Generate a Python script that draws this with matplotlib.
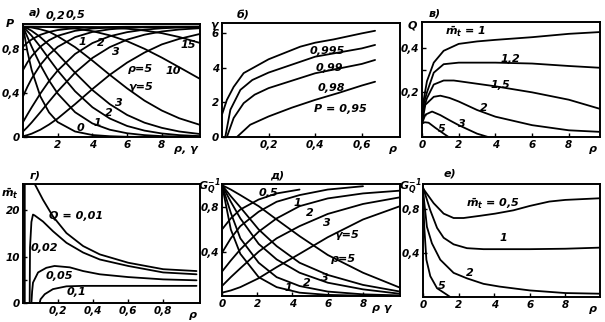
import numpy as np
import matplotlib
matplotlib.use('Agg')
import matplotlib.pyplot as plt

plt.rcParams.update({'font.family': 'DejaVu Sans', 'font.style': 'italic',
                     'font.weight': 'bold', 'font.size': 8,
                     'mathtext.fontset': 'dejavusans'})

# ---- panel a): P vs rho (fixed gamma) and P vs gamma (fixed rho)
xa = [0, 0.25, 0.5, 1, 1.5, 2, 3, 4, 5, 6, 7, 8, 9, 10.2]
a_rho02 = [0.819, 0.855, 0.885, 0.927, 0.953, 0.970, 0.988, 0.995, 0.998, 1, 1, 1, 1, 1]
a_rho05 = [0.607, 0.676, 0.733, 0.819, 0.878, 0.918, 0.963, 0.984, 0.993, 0.997, 0.999, 1, 1, 1]
a_rho1 = [0.368, 0.454, 0.530, 0.654, 0.748, 0.818, 0.906, 0.953, 0.977, 0.989, 0.995, 0.998, 0.999, 1]
a_rho2 = [0.135, 0.203, 0.269, 0.394, 0.507, 0.603, 0.753, 0.852, 0.914, 0.951, 0.974, 0.986, 0.993, 0.997]
a_rho3 = [0.050, 0.089, 0.132, 0.225, 0.321, 0.415, 0.583, 0.717, 0.815, 0.883, 0.928, 0.957, 0.975, 0.987]
a_rho5 = [0.007, 0.017, 0.030, 0.066, 0.113, 0.168, 0.298, 0.435, 0.564, 0.675, 0.766, 0.84, 0.89, 0.935]
a_gam0 = [1, 0.779, 0.607, 0.368, 0.223, 0.135, 0.050, 0.018, 0.007, 0.002, 0.001, 0, 0, 0]
a_gam1 = [1, 0.909, 0.819, 0.654, 0.512, 0.394, 0.225, 0.123, 0.066, 0.034, 0.017, 0.008, 0.004, 0.002]
a_gam2 = [1, 0.96, 0.918, 0.818, 0.709, 0.603, 0.415, 0.270, 0.168, 0.10, 0.058, 0.032, 0.017, 0.008]
a_gam3 = [1, 0.985, 0.963, 0.906, 0.834, 0.753, 0.583, 0.426, 0.298, 0.200, 0.13, 0.083, 0.05, 0.027]
a_gam5 = [1, 0.997, 0.993, 0.977, 0.955, 0.914, 0.815, 0.693, 0.564, 0.441, 0.33, 0.24, 0.17, 0.11]
a_gam10 = [1, 1, 1, 0.999, 0.998, 0.995, 0.984, 0.960, 0.922, 0.869, 0.80, 0.72, 0.633, 0.527]
a_gam15 = [1, 1, 1, 1, 1, 1, 0.999, 0.997, 0.992, 0.982, 0.966, 0.942, 0.907, 0.853]

# ---- panel б): gamma vs rho for P levels
b995_x = [0.0, 0.021, 0.05, 0.093, 0.2, 0.336, 0.4, 0.479, 0.6, 0.657]
b995_y = [1.3, 2.15, 2.9, 3.7, 4.5, 5.23, 5.46, 5.65, 6.0, 6.15]
b99_x = [0.014, 0.036, 0.079, 0.13, 0.2, 0.4, 0.6, 0.657]
b99_y = [0, 1.58, 2.73, 3.3, 3.73, 4.65, 5.13, 5.33]
b98_x = [0.021, 0.05, 0.093, 0.14, 0.2, 0.4, 0.6, 0.657]
b98_y = [0, 1.1, 1.96, 2.45, 2.83, 3.69, 4.23, 4.46]
b95_x = [0.064, 0.121, 0.2, 0.3, 0.4, 0.5, 0.6, 0.657]
b95_y = [0, 0.71, 1.19, 1.7, 2.15, 2.55, 2.98, 3.2]

# ---- panel в): Q vs rho for m_t
c1_x = [0, 0.1, 0.27, 0.64, 1.18, 2, 3, 4, 6, 8, 9.7]
c1_y = [0.06, 0.17, 0.25, 0.333, 0.386, 0.417, 0.428, 0.435, 0.447, 0.462, 0.47]
c12_x = [0, 0.1, 0.27, 0.64, 1.18, 2, 4, 6, 8, 9.7]
c12_y = [0.06, 0.15, 0.2, 0.288, 0.326, 0.333, 0.333, 0.329, 0.318, 0.31]
c15_x = [0, 0.1, 0.27, 0.64, 1.18, 1.73, 2, 4, 6, 8, 9.7]
c15_y = [0.06, 0.13, 0.174, 0.235, 0.253, 0.253, 0.25, 0.227, 0.2, 0.167, 0.126]
c2_x = [0, 0.18, 0.64, 1, 1.5, 2, 3, 4, 6, 8, 9.7]
c2_y = [0.06, 0.144, 0.18, 0.185, 0.175, 0.159, 0.121, 0.091, 0.053, 0.03, 0.023]
c3_x = [0, 0.18, 0.55, 1, 1.5, 2, 3, 3.6]
c3_y = [0.06, 0.1, 0.114, 0.098, 0.075, 0.053, 0.015, 0]
c5_x = [0, 0.15, 0.36, 0.73, 1.18, 1.45]
c5_y = [0.06, 0.066, 0.064, 0.041, 0.015, 0]

# ---- panel г): m_t vs rho for Q
d001_x = [0.01, 0.01, np.nan, 0.067, 0.114, 0.171, 0.248, 0.343, 0.438, 0.6, 0.8, 0.99]
d001_y = [0, 25.7, np.nan, 25.7, 22.3, 18.7, 15.1, 12.3, 10.5, 8.7, 7.3, 6.9]
d002_x = [0.038, 0.04, 0.048, 0.057, 0.067, 0.114, 0.171, 0.248, 0.343, 0.438, 0.6, 0.8, 0.99]
d002_y = [0, 12, 17.5, 19.1, 18.9, 17.6, 15.5, 13, 10.9, 9.4, 8, 6.6, 6.2]
d005_x = [0.048, 0.052, 0.057, 0.086, 0.133, 0.18, 0.267, 0.343, 0.438, 0.6, 0.8, 0.99]
d005_y = [0, 2.5, 4.4, 6.6, 7.6, 8.0, 7.7, 6.9, 6.2, 5.6, 5.1, 4.9]
d01_x = [0.095, 0.1, 0.124, 0.171, 0.248, 0.343, 0.6, 0.99]
d01_y = [0, 0.8, 1.9, 3.0, 3.6, 3.7, 3.7, 3.7]

# ---- panel д): G_Q^-1 vs rho, gamma
e_up_x = [0, 0.5, 1.04, 2.08, 3.1, 4.4, 6, 8, 10.1]
e_g05 = [0.6, 0.70, 0.78, 0.87, 0.925, 0.96]
e_g1 = [0.39, 0.52, 0.63, 0.76, 0.85, 0.91, 0.96, 0.99]
e_g2 = [0.22, 0.32, 0.42, 0.58, 0.70, 0.81, 0.88, 0.925, 0.95]
e_g3 = [0.09, 0.17, 0.25, 0.40, 0.52, 0.63, 0.74, 0.83, 0.89]
e_g5 = [0.03, 0.05, 0.08, 0.16, 0.26, 0.38, 0.53, 0.69, 0.81]
e_dn_x = [0, 0.5, 1.04, 2.08, 3.1, 4.4, 6, 8, 10.1]
e_r05 = [1, 0.6, 0.38, 0.17, 0.08, 0.03, 0.01, 0.003, 0.001]
e_r1 = [1, 0.75, 0.52, 0.3, 0.17, 0.09, 0.04, 0.015, 0.005]
e_r2 = [1, 0.85, 0.7, 0.47, 0.33, 0.21, 0.12, 0.06, 0.02]
e_r3 = [1, 0.9, 0.8, 0.6, 0.45, 0.3, 0.19, 0.1, 0.04]
e_r5 = [1, 0.96, 0.91, 0.81, 0.69, 0.54, 0.37, 0.21, 0.075]

# ---- panel е): G_Q^-1 vs rho for m_t
f05_x = [0, 0.6, 1.16, 1.72, 2.28, 3.2, 4.06, 5.08, 6, 7.1, 8, 9.95]
f05_y = [0.99, 0.855, 0.76, 0.72, 0.72, 0.74, 0.76, 0.79, 0.83, 0.87, 0.885, 0.9]
f1_x = [0, 0.41, 0.79, 1.16, 1.72, 2.47, 3.4, 4.3, 6, 8, 9.95]
f1_y = [1.0, 0.79, 0.63, 0.54, 0.48, 0.445, 0.436, 0.436, 0.436, 0.44, 0.45]
f2_x = [0, 0.22, 0.5, 0.97, 1.72, 2.47, 3.4, 4.3, 6, 8, 9.95]
f2_y = [0.97, 0.64, 0.49, 0.34, 0.22, 0.17, 0.12, 0.095, 0.06, 0.036, 0.03]
f5_x = [0, 0.07, 0.19, 0.41, 0.79, 1.35, 1.53]
f5_y = [0.97, 0.64, 0.34, 0.19, 0.08, 0.02, 0]

W, H = 605.0, 322.0
fig = plt.figure(figsize=(6.05, 3.22), dpi=100)


def box(l, t, r, b):
    return fig.add_axes([l / W, 1 - b / H, (r - l) / W, (b - t) / H])


def style(ax, xlim, ylim, xt, xtl, yt, ytl):
    ax.set_xlim(*xlim)
    ax.set_ylim(*ylim)
    ax.set_xticks(xt)
    ax.set_xticklabels(xtl)
    ax.set_yticks(yt)
    ax.set_yticklabels(ytl)
    ax.tick_params(direction='in', length=3, width=1, pad=2, labelsize=7.5)
    for s in ax.spines.values():
        s.set_linewidth(1.4)


lw = 1.3
kw = dict(color='k', lw=lw, solid_capstyle='round')

# a)
ax = box(23, 24, 200, 137)
for y in [a_rho02, a_rho05, a_rho1, a_rho2, a_rho3, a_rho5,
          a_gam0, a_gam1, a_gam2, a_gam3, a_gam5, a_gam10, a_gam15]:
    ax.plot(xa, y, **kw)
style(ax, (0, 10.2), (0, 1.025), [2, 4, 6, 8], ['2', '4', '6', '8'],
      [0, 0.4, 0.8], ['0', '0,4', '0,8'])
for x, y, s in [(1.85, 1.1, '0,2'), (3.0, 1.11, '0,5'), (3.43, 0.86, '1'),
                (4.48, 0.85, '2'), (5.33, 0.77, '3'), (6.76, 0.62, 'ρ=5'),
                (8.67, 0.6, '10'), (9.52, 0.83, '15'), (6.76, 0.45, 'γ=5'),
                (5.52, 0.31, '3'), (4.95, 0.215, '2'), (4.29, 0.125, '1'),
                (3.33, 0.08, '0')]:
    ax.text(x, y, s, ha='center', va='center', clip_on=False)
ax.text(0.07, 1.1, 'а)', transform=ax.transAxes, ha='center', va='center')
ax.text(-0.075, 1.0, 'P', transform=ax.transAxes, ha='center', va='center')
ax.text(0.92, -0.105, 'ρ, γ', transform=ax.transAxes, ha='center', va='center')

# б)
ax = box(222, 23, 400, 137)
ax.plot(b995_x, b995_y, **kw)
ax.plot(b99_x, b99_y, **kw)
ax.plot(b98_x, b98_y, **kw)
ax.plot(b95_x, b95_y, **kw)
style(ax, (0, 0.764), (0, 6.6), [0.2, 0.4, 0.6], ['0,2', '0,4', '0,6'],
      [0, 2, 4, 6], ['0', '2', '4', '6'])
for x, y, s in [(0.45, 5.0, '0,995'), (0.46, 4.0, '0,99'),
                (0.47, 2.85, '0,98'), (0.51, 1.6, 'P = 0,95')]:
    ax.text(x, y, s, ha='center', va='center')
ax.text(0.12, 1.07, 'б)', transform=ax.transAxes, ha='center', va='center')
ax.text(-0.045, 0.98, 'γ', transform=ax.transAxes, ha='center', va='center')
ax.text(0.96, -0.105, 'ρ', transform=ax.transAxes, ha='center', va='center')

# в)
ax = box(422, 22, 600, 137)
for xx, yy in [(c1_x, c1_y), (c12_x, c12_y), (c15_x, c15_y),
               (c2_x, c2_y), (c3_x, c3_y), (c5_x, c5_y)]:
    ax.plot(xx, yy, **kw)
style(ax, (0, 9.7), (0, 0.515), [0, 2, 4, 6, 8], ['0', '2', '4', '6', '8'],
      [0.1, 0.2, 0.3, 0.4], ['', '0,2', '', '0,4'])
for x, y, s in [(2.4, 0.47, r'$\bar{m}_t$ = 1'), (4.82, 0.348, '1,2'),
                (4.27, 0.235, '1,5'), (3.36, 0.129, '2'), (2.18, 0.06, '3'),
                (1.09, 0.036, '5')]:
    ax.text(x, y, s, ha='center', va='center')
ax.text(0.07, 1.07, 'в)', transform=ax.transAxes, ha='center', va='center')
ax.text(-0.055, 0.97, 'Q', transform=ax.transAxes, ha='center', va='center')
ax.text(0.96, -0.105, 'ρ', transform=ax.transAxes, ha='center', va='center')

# г)
ax = box(23, 184, 200, 303)
for xx, yy in [(d001_x, d001_y), (d002_x, d002_y), (d005_x, d005_y), (d01_x, d01_y)]:
    ax.plot(xx, yy, **kw)
style(ax, (0, 1.01), (0, 25.7), [0.2, 0.4, 0.6, 0.8], ['0,2', '0,4', '0,6', '0,8'],
      [0, 5, 10, 20], ['0', '', '10', '20'])
for x, y, s in [(0.3, 18.7, 'Q = 0,01'), (0.124, 11.9, '0,02'),
                (0.21, 5.9, '0,05'), (0.305, 2.3, '0,1')]:
    ax.text(x, y, s, ha='center', va='center')
ax.text(0.07, 1.075, 'г)', transform=ax.transAxes, ha='center', va='center')
ax.text(-0.075, 0.92, r'$\bar{m}_t$', transform=ax.transAxes, ha='center', va='center')
ax.text(0.96, -0.105, 'ρ', transform=ax.transAxes, ha='center', va='center')

# д)
ax = box(222, 184, 400, 296)
for yy in [e_g05, e_g1, e_g2, e_g3, e_g5]:
    ax.plot(e_up_x[:len(yy)], yy, **kw)
for yy in [e_r05, e_r1, e_r2, e_r3, e_r5]:
    ax.plot(e_dn_x, yy, **kw)
style(ax, (0, 10.1), (0, 1.01), [0, 2, 4, 6, 8], ['0', '2', '4', '6', '8'],
      [0.4, 0.8], ['0,4', '0,8'])
for x, y, s in [(2.64, 0.93, '0,5'), (4.25, 0.84, '1'), (5.0, 0.75, '2'),
                (5.94, 0.66, '3'), (7.1, 0.55, 'γ=5'), (6.9, 0.33, 'ρ=5'),
                (5.85, 0.165, '3'), (4.8, 0.12, '2'), (3.77, 0.075, '1')]:
    ax.text(x, y, s, ha='center', va='center')
ax.text(0.31, 1.075, 'д)', transform=ax.transAxes, ha='center', va='center')
ax.text(-0.07, 0.97, r'$G_Q^{-1}$', transform=ax.transAxes, ha='center', va='center')
ax.text(0.9, -0.105, 'ρ γ', transform=ax.transAxes, ha='center', va='center')

# е)
ax = box(423, 184, 600, 297)
for xx, yy in [(f05_x, f05_y), (f1_x, f1_y), (f2_x, f2_y), (f5_x, f5_y)]:
    ax.plot(xx, yy, **kw)
style(ax, (0, 9.95), (0, 1.03), [0, 2, 4, 6, 8], ['0', '2', '4', '6', '8'],
      [0.4, 0.8], ['0,4', '0,8'])
for x, y, s in [(3.96, 0.855, r'$\bar{m}_t$ = 0,5'), (4.52, 0.536, '1'),
                (2.65, 0.218, '2'), (1.07, 0.097, '5')]:
    ax.text(x, y, s, ha='center', va='center')
ax.text(0.15, 1.09, 'е)', transform=ax.transAxes, ha='center', va='center')
ax.text(-0.07, 0.97, r'$G_Q^{-1}$', transform=ax.transAxes, ha='center', va='center')
ax.text(0.96, -0.105, 'ρ', transform=ax.transAxes, ha='center', va='center')

fig.savefig('out.png', dpi=100)
